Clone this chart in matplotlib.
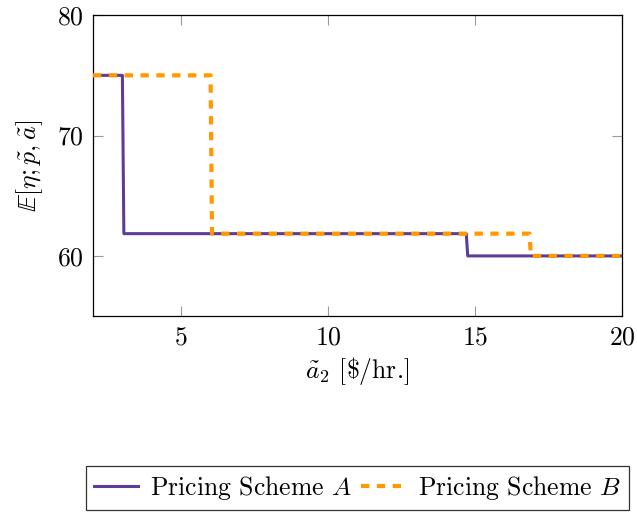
import numpy as np
import matplotlib
matplotlib.use("Agg")
import matplotlib.pyplot as plt

# read data
x_a = [2.0, 3.0, 3.05, 14.7, 14.75, 20.0]
y_a = [75.0, 75.0, 61.85, 61.85, 60.0, 60.0]
x_b = [2.0, 6.0, 6.05, 16.85, 16.9, 20.0]
y_b = [75.0, 75.0, 61.85, 61.85, 60.0, 60.0]

xticks = [5, 10, 15, 20]
yticks = [60, 70, 80]

plt.rcParams["font.family"] = ["cmr10", "DejaVu Serif"]
plt.rcParams["mathtext.fontset"] = "cm"
plt.rcParams["axes.formatter.use_mathtext"] = True

fs = 18.5

fig = plt.figure(figsize=(6.37, 5.14), dpi=100)
ax = fig.add_axes([0.146, 0.385, 0.8305, 0.5855])

ax.plot(x_a, y_a, color="#5E3C99", lw=2.2, label=r"Pricing Scheme $A$", zorder=3)
ax.plot(x_b, y_b, color="#FF9900", lw=3.0, dashes=(2.0, 1.8),
        label=r"Pricing Scheme $B$", zorder=4)

ax.set_xlim(2, 20)
ax.set_ylim(55, 80)
ax.set_xticks(xticks)
ax.set_yticks(yticks)
ax.tick_params(direction="in", length=7.5, width=0.8, color="#999999",
               top=True, right=True, labelsize=fs, pad=7)
for s in ax.spines.values():
    s.set_linewidth(0.9)

ax.set_xlabel(r"$\tilde{a}_2$ [\$/hr.]", fontsize=fs, labelpad=4)
ax.set_ylabel(r"$\mathbb{E}[\eta;\tilde{p},\tilde{a}]$", fontsize=fs, labelpad=8)

leg = fig.legend(loc="upper center", bbox_to_anchor=(0.561, 0.093), ncol=2,
                 fontsize=fs, frameon=True, fancybox=False, edgecolor="black",
                 handlelength=1.7, handletextpad=0.5, columnspacing=0.35,
                 borderpad=0.3, borderaxespad=0.0)
leg.get_frame().set_linewidth(0.9)

plt.savefig("out.png", dpi=100)
